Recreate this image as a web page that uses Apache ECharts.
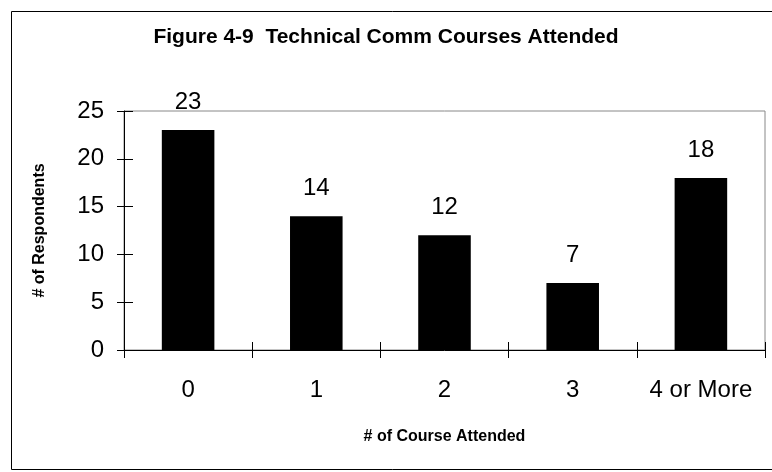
<!DOCTYPE html>
<html>
<head>
<meta charset="utf-8">
<script src="https://cdn.jsdelivr.net/npm/echarts@6/dist/echarts.min.js"></script>
<style>
html,body{margin:0;padding:0;background:#fff;}
#c{width:772px;height:472px;}
</style>
</head>
<body>
<div id="c"></div>
<script>
var titleText = 'Figure 4-9  Technical Comm Courses Attended';
var categories = ['0', '1', '2', '3', '4 or More'];
var respondents = [23, 14, 12, 7, 18];
var yTicks = [0, 5, 10, 15, 20, 25];
var xName = '# of Course Attended';
var yName = '# of Respondents';

var chart = echarts.init(document.getElementById('c'), null, {renderer: 'canvas'});
var font = 'Arial, "Liberation Sans", sans-serif';
chart.setOption({
  animation: false,
  backgroundColor: '#fff',
  graphic: [{
    type: 'rect', left: 9, top: 9,
    shape: {width: 770, height: 458},
    style: {fill: 'none', stroke: '#000', lineWidth: 1}, z: 0
  }],
  title: {
    text: titleText, left: 'center', top: 22,
    textStyle: {fontFamily: font, fontWeight: 'bold', fontSize: 21, color: '#000'}
  },
  grid: {left: 124, top: 111, right: 7, bottom: 122, show: true, borderColor: '#888', borderWidth: 1, containLabel: false},
  xAxis: [{
    type: 'category', data: categories,
    axisLine: {lineStyle: {color: '#000', width: 1}},
    axisTick: {show: true, length: 8, interval: 0, lineStyle: {color: '#000'}},
    axisLabel: {interval: 0, hideOverlap: false, fontFamily: font, fontSize: 24, color: '#000', margin: 28},
    name: xName, nameLocation: 'middle', nameGap: 79,
    nameTextStyle: {fontFamily: font, fontWeight: 'bold', fontSize: 16, color: '#000'}
  }, {
    type: 'category', data: categories, position: 'bottom',
    axisLine: {show: false},
    axisTick: {show: true, inside: true, interval: 0, length: 8, lineStyle: {color: '#000'}},
    axisLabel: {show: false, interval: 0}
  }],
  yAxis: [{
    type: 'value', min: yTicks[0], max: yTicks[yTicks.length - 1], interval: 5,
    axisLine: {show: true, lineStyle: {color: '#000', width: 1}},
    axisTick: {show: true, length: 7, lineStyle: {color: '#000'}},
    splitLine: {show: false},
    axisLabel: {fontFamily: font, fontSize: 24, color: '#000', margin: 20},
    name: yName, nameLocation: 'middle', nameGap: 76,
    nameTextStyle: {fontFamily: font, fontWeight: 'bold', fontSize: 16, color: '#000'}
  }, {
    type: 'value', min: yTicks[0], max: yTicks[yTicks.length - 1], interval: 5, position: 'left',
    axisLine: {show: false},
    axisTick: {show: true, inside: true, length: 9, lineStyle: {color: '#000'}},
    splitLine: {show: false},
    axisLabel: {show: false}
  }],
  series: [{
    type: 'bar', data: respondents, barWidth: '41%',
    itemStyle: {color: '#000'},
    label: {show: true, position: 'top', distance: 16, fontFamily: font, fontSize: 24, color: '#000'}
  }]
});
</script>
</body>
</html>
